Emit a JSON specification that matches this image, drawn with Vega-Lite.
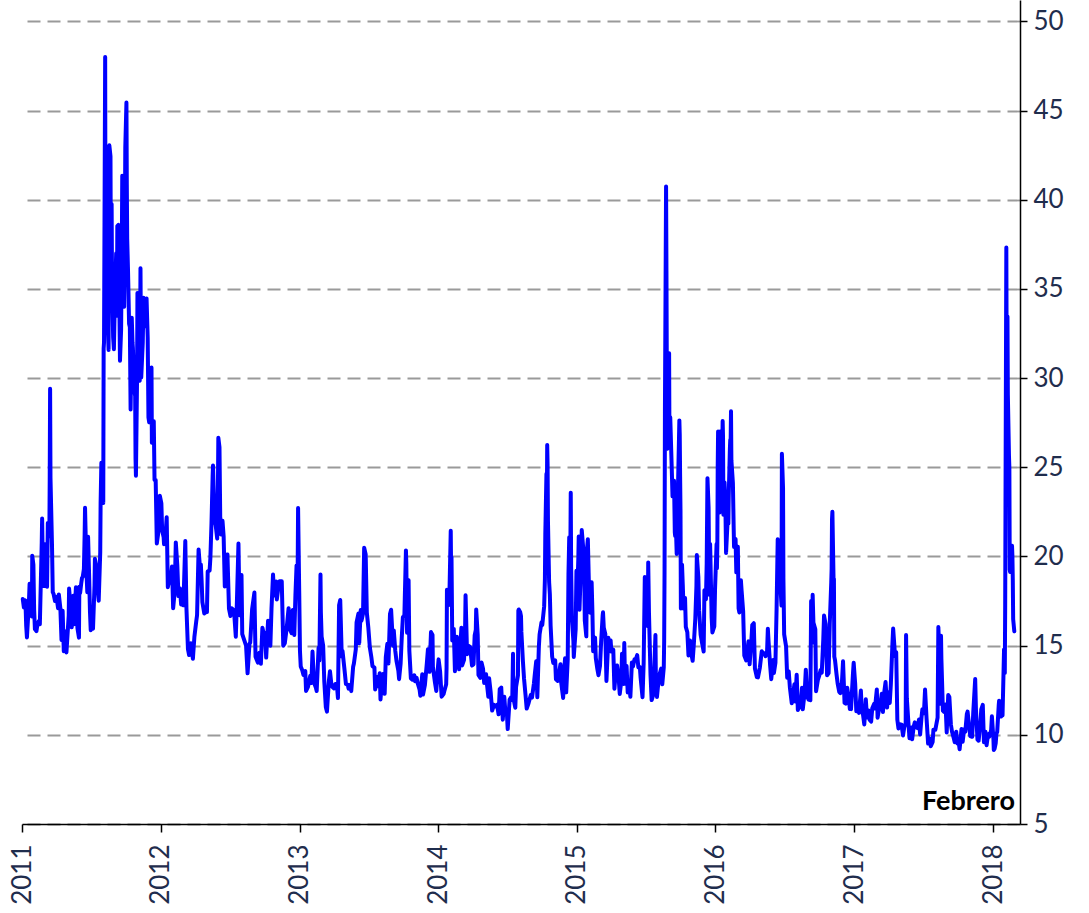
{
"$schema": "https://vega.github.io/schema/vega-lite/v6.json",
"width": 998, "height": 824,
"autosize": {"type": "none"},
"padding": {"left": 22, "top": 0, "right": 69, "bottom": 89},
"background": "white",
"config": {"view": {"stroke": null}, "font": "Lato"},
"datasets": {
"lab": [{"d": "2018-02-28", "v": 5.45, "t": "Febrero"}],
"vix": [
{"d":"2011-01-03","v":17.61},{"d":"2011-01-06","v":17.14},{"d":"2011-01-10","v":17.54},{"d":"2011-01-12","v":16.14},{"d":"2011-01-14","v":15.46},{"d":"2011-01-19","v":17.31},{"d":"2011-01-21","v":18.47},{"d":"2011-01-25","v":17.59},{"d":"2011-01-27","v":16.64},{"d":"2011-01-28","v":20.04},{"d":"2011-01-31","v":19.53},
{"d":"2011-02-02","v":17.0},{"d":"2011-02-04","v":15.93},{"d":"2011-02-08","v":15.81},{"d":"2011-02-10","v":16.09},{"d":"2011-02-14","v":16.37},{"d":"2011-02-17","v":16.2},{"d":"2011-02-22","v":20.8},{"d":"2011-02-23","v":22.13},{"d":"2011-02-25","v":19.22},{"d":"2011-02-28","v":18.35},
{"d":"2011-03-01","v":20.7},{"d":"2011-03-04","v":19.06},{"d":"2011-03-08","v":18.3},{"d":"2011-03-10","v":21.88},{"d":"2011-03-14","v":21.13},{"d":"2011-03-15","v":24.32},{"d":"2011-03-16","v":29.4},{"d":"2011-03-17","v":24.41},{"d":"2011-03-21","v":20.61},{"d":"2011-03-23","v":18.0},{"d":"2011-03-25","v":17.91},{"d":"2011-03-29","v":17.5},{"d":"2011-03-31","v":17.74},
{"d":"2011-04-04","v":17.4},{"d":"2011-04-06","v":17.1},{"d":"2011-04-08","v":17.87},{"d":"2011-04-12","v":17.1},{"d":"2011-04-15","v":15.32},{"d":"2011-04-18","v":16.96},{"d":"2011-04-21","v":14.69},{"d":"2011-04-25","v":15.8},{"d":"2011-04-28","v":14.62},
{"d":"2011-05-02","v":15.99},{"d":"2011-05-04","v":16.7},{"d":"2011-05-05","v":18.2},{"d":"2011-05-09","v":17.16},{"d":"2011-05-12","v":16.03},{"d":"2011-05-16","v":17.8},{"d":"2011-05-18","v":16.2},{"d":"2011-05-23","v":18.27},{"d":"2011-05-25","v":17.07},{"d":"2011-05-27","v":15.98},{"d":"2011-05-31","v":15.45},
{"d":"2011-06-01","v":18.3},{"d":"2011-06-03","v":17.95},{"d":"2011-06-06","v":18.5},{"d":"2011-06-08","v":18.8},{"d":"2011-06-10","v":18.86},{"d":"2011-06-13","v":19.3},{"d":"2011-06-15","v":21.32},{"d":"2011-06-16","v":22.73},{"d":"2011-06-20","v":19.0},{"d":"2011-06-22","v":18.0},{"d":"2011-06-24","v":21.1},{"d":"2011-06-27","v":18.7},{"d":"2011-06-29","v":16.9},
{"d":"2011-07-01","v":15.87},{"d":"2011-07-05","v":16.3},{"d":"2011-07-07","v":15.95},{"d":"2011-07-11","v":18.39},{"d":"2011-07-12","v":19.87},{"d":"2011-07-15","v":19.53},{"d":"2011-07-19","v":18.5},{"d":"2011-07-21","v":17.77},{"d":"2011-07-22","v":17.52},{"d":"2011-07-26","v":20.23},{"d":"2011-07-27","v":22.98},{"d":"2011-07-29","v":25.25},
{"d":"2011-08-01","v":23.66},{"d":"2011-08-03","v":23.0},{"d":"2011-08-04","v":31.66},{"d":"2011-08-05","v":32.0},{"d":"2011-08-08","v":48.0},{"d":"2011-08-09","v":35.06},{"d":"2011-08-10","v":42.99},{"d":"2011-08-11","v":39.0},{"d":"2011-08-12","v":36.36},{"d":"2011-08-15","v":32.85},{"d":"2011-08-17","v":31.58},{"d":"2011-08-18","v":42.67},{"d":"2011-08-19","v":43.05},{"d":"2011-08-22","v":42.44},{"d":"2011-08-23","v":36.27},{"d":"2011-08-25","v":39.76},{"d":"2011-08-26","v":35.59},{"d":"2011-08-29","v":32.28},{"d":"2011-08-31","v":31.62},
{"d":"2011-09-02","v":33.92},{"d":"2011-09-06","v":37.0},{"d":"2011-09-08","v":33.5},{"d":"2011-09-09","v":38.52},{"d":"2011-09-12","v":38.59},{"d":"2011-09-14","v":35.0},{"d":"2011-09-16","v":30.98},{"d":"2011-09-19","v":32.73},{"d":"2011-09-21","v":37.81},{"d":"2011-09-22","v":41.35},{"d":"2011-09-23","v":41.25},{"d":"2011-09-26","v":37.0},{"d":"2011-09-27","v":34.0},{"d":"2011-09-29","v":38.84},{"d":"2011-09-30","v":42.96},
{"d":"2011-10-03","v":45.45},{"d":"2011-10-04","v":40.82},{"d":"2011-10-05","v":37.81},{"d":"2011-10-07","v":36.2},{"d":"2011-10-10","v":33.04},{"d":"2011-10-12","v":32.86},{"d":"2011-10-14","v":28.24},{"d":"2011-10-17","v":33.39},{"d":"2011-10-19","v":32.0},{"d":"2011-10-20","v":31.7},{"d":"2011-10-24","v":29.26},{"d":"2011-10-26","v":29.0},{"d":"2011-10-27","v":25.46},{"d":"2011-10-28","v":24.53},{"d":"2011-10-31","v":29.96},
{"d":"2011-11-01","v":34.77},{"d":"2011-11-02","v":30.5},{"d":"2011-11-04","v":30.16},{"d":"2011-11-07","v":29.85},{"d":"2011-11-08","v":32.0},{"d":"2011-11-09","v":36.16},{"d":"2011-11-10","v":32.8},{"d":"2011-11-11","v":30.04},{"d":"2011-11-15","v":32.0},{"d":"2011-11-17","v":34.51},{"d":"2011-11-21","v":32.91},{"d":"2011-11-23","v":33.98},{"d":"2011-11-25","v":34.47},{"d":"2011-11-28","v":32.28},{"d":"2011-11-30","v":27.8},
{"d":"2011-12-02","v":27.52},{"d":"2011-12-05","v":27.5},{"d":"2011-12-08","v":30.59},{"d":"2011-12-09","v":26.38},{"d":"2011-12-12","v":27.0},{"d":"2011-12-14","v":27.58},{"d":"2011-12-16","v":24.29},{"d":"2011-12-19","v":24.29},{"d":"2011-12-22","v":20.73},{"d":"2011-12-27","v":21.5},{"d":"2011-12-30","v":23.4},
{"d":"2012-01-03","v":22.97},{"d":"2012-01-05","v":21.48},{"d":"2012-01-09","v":21.07},{"d":"2012-01-10","v":20.69},{"d":"2012-01-13","v":20.91},{"d":"2012-01-17","v":22.2},{"d":"2012-01-18","v":20.89},{"d":"2012-01-20","v":18.28},{"d":"2012-01-24","v":18.7},{"d":"2012-01-27","v":18.53},{"d":"2012-01-31","v":19.44},
{"d":"2012-02-03","v":17.1},{"d":"2012-02-07","v":18.0},{"d":"2012-02-10","v":20.79},{"d":"2012-02-14","v":19.5},{"d":"2012-02-17","v":17.78},{"d":"2012-02-21","v":18.2},{"d":"2012-02-24","v":17.31},{"d":"2012-02-28","v":17.9},
{"d":"2012-03-01","v":17.26},{"d":"2012-03-06","v":20.87},{"d":"2012-03-09","v":17.11},{"d":"2012-03-13","v":14.8},{"d":"2012-03-16","v":14.47},{"d":"2012-03-19","v":15.04},{"d":"2012-03-21","v":15.13},{"d":"2012-03-26","v":14.26},{"d":"2012-03-30","v":15.5},
{"d":"2012-04-04","v":16.4},{"d":"2012-04-06","v":16.7},{"d":"2012-04-10","v":20.39},{"d":"2012-04-13","v":19.55},{"d":"2012-04-16","v":19.55},{"d":"2012-04-18","v":18.64},{"d":"2012-04-20","v":17.44},{"d":"2012-04-25","v":16.8},{"d":"2012-04-30","v":17.15},
{"d":"2012-05-02","v":16.88},{"d":"2012-05-04","v":19.16},{"d":"2012-05-09","v":19.2},{"d":"2012-05-11","v":19.89},{"d":"2012-05-14","v":21.87},{"d":"2012-05-17","v":24.49},{"d":"2012-05-18","v":25.1},{"d":"2012-05-22","v":22.0},{"d":"2012-05-25","v":21.76},{"d":"2012-05-29","v":21.0},{"d":"2012-05-31","v":24.06},
{"d":"2012-06-01","v":26.66},{"d":"2012-06-04","v":26.12},{"d":"2012-06-06","v":22.16},{"d":"2012-06-08","v":21.23},{"d":"2012-06-12","v":22.0},{"d":"2012-06-15","v":21.11},{"d":"2012-06-18","v":18.32},{"d":"2012-06-21","v":20.08},{"d":"2012-06-25","v":20.11},{"d":"2012-06-29","v":17.08},
{"d":"2012-07-03","v":16.66},{"d":"2012-07-06","v":17.1},{"d":"2012-07-11","v":17.0},{"d":"2012-07-13","v":16.74},{"d":"2012-07-17","v":15.5},{"d":"2012-07-20","v":17.53},{"d":"2012-07-24","v":20.73},{"d":"2012-07-27","v":16.7},
{"d":"2012-08-01","v":18.96},{"d":"2012-08-03","v":15.64},{"d":"2012-08-08","v":15.32},{"d":"2012-08-13","v":15.0},{"d":"2012-08-17","v":13.45},{"d":"2012-08-22","v":15.1},{"d":"2012-08-24","v":15.18},{"d":"2012-08-29","v":17.06},
{"d":"2012-09-04","v":17.98},{"d":"2012-09-07","v":14.38},{"d":"2012-09-13","v":14.05},{"d":"2012-09-17","v":14.6},{"d":"2012-09-21","v":13.98},{"d":"2012-09-25","v":16.0},{"d":"2012-09-28","v":15.73},
{"d":"2012-10-02","v":15.71},{"d":"2012-10-05","v":14.33},{"d":"2012-10-10","v":16.4},{"d":"2012-10-12","v":16.14},{"d":"2012-10-16","v":15.0},{"d":"2012-10-19","v":17.06},{"d":"2012-10-23","v":18.99},{"d":"2012-10-26","v":17.81},{"d":"2012-10-31","v":18.6},
{"d":"2012-11-02","v":17.59},{"d":"2012-11-07","v":18.4},{"d":"2012-11-09","v":18.61},{"d":"2012-11-15","v":18.61},{"d":"2012-11-19","v":15.0},{"d":"2012-11-23","v":15.14},{"d":"2012-11-28","v":15.98},
{"d":"2012-12-03","v":17.1},{"d":"2012-12-07","v":15.9},{"d":"2012-12-11","v":15.7},{"d":"2012-12-14","v":17.0},{"d":"2012-12-18","v":15.6},{"d":"2012-12-21","v":17.84},{"d":"2012-12-24","v":19.5},{"d":"2012-12-27","v":19.47},{"d":"2012-12-28","v":22.72},{"d":"2012-12-31","v":18.02},
{"d":"2013-01-02","v":14.68},{"d":"2013-01-04","v":13.83},{"d":"2013-01-08","v":13.62},{"d":"2013-01-11","v":13.36},{"d":"2013-01-16","v":13.57},{"d":"2013-01-18","v":12.46},{"d":"2013-01-23","v":12.69},{"d":"2013-01-25","v":12.89},{"d":"2013-01-29","v":13.31},
{"d":"2013-02-01","v":12.9},{"d":"2013-02-04","v":14.67},{"d":"2013-02-08","v":12.93},{"d":"2013-02-13","v":12.64},{"d":"2013-02-15","v":12.46},{"d":"2013-02-20","v":14.88},{"d":"2013-02-22","v":14.17},{"d":"2013-02-25","v":18.99},{"d":"2013-02-26","v":16.87},{"d":"2013-02-28","v":15.51},
{"d":"2013-03-04","v":15.0},{"d":"2013-03-07","v":13.0},{"d":"2013-03-11","v":11.56},{"d":"2013-03-14","v":11.3},{"d":"2013-03-19","v":13.0},{"d":"2013-03-22","v":13.57},{"d":"2013-03-26","v":12.77},{"d":"2013-03-28","v":12.7},
{"d":"2013-04-02","v":12.6},{"d":"2013-04-05","v":12.85},{"d":"2013-04-09","v":12.84},{"d":"2013-04-12","v":12.06},{"d":"2013-04-15","v":17.27},{"d":"2013-04-18","v":17.56},{"d":"2013-04-22","v":14.39},{"d":"2013-04-24","v":14.7},{"d":"2013-04-29","v":13.7},
{"d":"2013-05-03","v":12.85},{"d":"2013-05-08","v":12.8},{"d":"2013-05-10","v":12.59},{"d":"2013-05-15","v":12.8},{"d":"2013-05-17","v":12.45},{"d":"2013-05-22","v":13.82},{"d":"2013-05-24","v":14.0},{"d":"2013-05-29","v":14.8},{"d":"2013-05-31","v":16.3},
{"d":"2013-06-05","v":16.8},{"d":"2013-06-07","v":15.14},{"d":"2013-06-11","v":17.0},{"d":"2013-06-13","v":16.4},{"d":"2013-06-17","v":16.8},{"d":"2013-06-20","v":20.49},{"d":"2013-06-24","v":20.11},{"d":"2013-06-27","v":16.86},
{"d":"2013-07-01","v":16.0},{"d":"2013-07-05","v":14.89},{"d":"2013-07-09","v":14.35},{"d":"2013-07-12","v":13.84},{"d":"2013-07-17","v":13.78},{"d":"2013-07-19","v":12.54},{"d":"2013-07-24","v":13.24},{"d":"2013-07-26","v":12.72},{"d":"2013-07-31","v":13.45},
{"d":"2013-08-02","v":11.98},{"d":"2013-08-07","v":13.3},{"d":"2013-08-09","v":13.41},{"d":"2013-08-13","v":12.3},{"d":"2013-08-16","v":14.37},{"d":"2013-08-20","v":15.1},{"d":"2013-08-23","v":14.0},{"d":"2013-08-27","v":16.77},{"d":"2013-08-30","v":17.01},
{"d":"2013-09-04","v":15.0},{"d":"2013-09-06","v":15.85},{"d":"2013-09-10","v":14.7},{"d":"2013-09-13","v":14.16},{"d":"2013-09-18","v":13.6},{"d":"2013-09-20","v":13.12},{"d":"2013-09-24","v":14.0},{"d":"2013-09-27","v":15.46},{"d":"2013-09-30","v":16.6},
{"d":"2013-10-02","v":16.6},{"d":"2013-10-04","v":16.74},{"d":"2013-10-08","v":20.34},{"d":"2013-10-09","v":19.6},{"d":"2013-10-11","v":15.72},{"d":"2013-10-15","v":18.66},{"d":"2013-10-17","v":14.71},{"d":"2013-10-21","v":13.16},{"d":"2013-10-25","v":13.09},{"d":"2013-10-30","v":13.33},
{"d":"2013-11-01","v":13.0},{"d":"2013-11-05","v":13.2},{"d":"2013-11-08","v":12.9},{"d":"2013-11-13","v":12.53},{"d":"2013-11-15","v":12.19},{"d":"2013-11-20","v":13.4},{"d":"2013-11-22","v":12.26},{"d":"2013-11-27","v":12.8},
{"d":"2013-12-02","v":14.0},{"d":"2013-12-05","v":14.8},{"d":"2013-12-09","v":13.53},{"d":"2013-12-13","v":15.76},{"d":"2013-12-17","v":15.6},{"d":"2013-12-18","v":13.8},{"d":"2013-12-23","v":13.0},{"d":"2013-12-27","v":12.46},{"d":"2013-12-31","v":13.72},
{"d":"2014-01-02","v":14.23},{"d":"2014-01-06","v":13.55},{"d":"2014-01-10","v":12.14},{"d":"2014-01-15","v":12.28},{"d":"2014-01-17","v":12.44},{"d":"2014-01-22","v":12.84},{"d":"2014-01-23","v":13.77},{"d":"2014-01-24","v":18.14},{"d":"2014-01-27","v":17.42},{"d":"2014-01-30","v":17.29},
{"d":"2014-02-03","v":21.44},{"d":"2014-02-04","v":19.11},{"d":"2014-02-05","v":19.95},{"d":"2014-02-07","v":15.29},{"d":"2014-02-11","v":15.94},{"d":"2014-02-14","v":13.57},{"d":"2014-02-19","v":15.5},{"d":"2014-02-21","v":14.68},{"d":"2014-02-25","v":13.67},
{"d":"2014-03-03","v":16.0},{"d":"2014-03-05","v":13.89},{"d":"2014-03-10","v":14.2},{"d":"2014-03-13","v":16.22},{"d":"2014-03-14","v":17.82},{"d":"2014-03-18","v":14.52},{"d":"2014-03-21","v":15.0},{"d":"2014-03-26","v":14.93},{"d":"2014-03-31","v":13.88},
{"d":"2014-04-04","v":13.96},{"d":"2014-04-07","v":15.57},{"d":"2014-04-10","v":15.89},{"d":"2014-04-11","v":17.03},{"d":"2014-04-15","v":15.61},{"d":"2014-04-17","v":13.36},{"d":"2014-04-22","v":13.19},{"d":"2014-04-25","v":14.06},{"d":"2014-04-29","v":13.71},
{"d":"2014-05-02","v":12.91},{"d":"2014-05-07","v":13.4},{"d":"2014-05-09","v":12.92},{"d":"2014-05-13","v":12.13},{"d":"2014-05-15","v":13.17},{"d":"2014-05-19","v":12.42},{"d":"2014-05-23","v":11.36},{"d":"2014-05-28","v":11.68},
{"d":"2014-06-02","v":11.58},{"d":"2014-06-05","v":11.68},{"d":"2014-06-09","v":11.15},{"d":"2014-06-12","v":12.56},{"d":"2014-06-16","v":12.65},{"d":"2014-06-20","v":10.85},{"d":"2014-06-24","v":12.13},{"d":"2014-06-27","v":11.26},
{"d":"2014-07-01","v":11.15},{"d":"2014-07-03","v":10.32},{"d":"2014-07-08","v":11.98},{"d":"2014-07-11","v":12.08},{"d":"2014-07-15","v":11.96},{"d":"2014-07-17","v":14.54},{"d":"2014-07-18","v":12.06},{"d":"2014-07-23","v":11.52},{"d":"2014-07-25","v":12.69},{"d":"2014-07-30","v":13.33},{"d":"2014-07-31","v":16.95},
{"d":"2014-08-01","v":17.03},{"d":"2014-08-05","v":16.87},{"d":"2014-08-07","v":16.66},{"d":"2014-08-08","v":15.77},{"d":"2014-08-12","v":14.13},{"d":"2014-08-15","v":13.15},{"d":"2014-08-19","v":12.21},{"d":"2014-08-22","v":11.47},{"d":"2014-08-27","v":11.78},
{"d":"2014-09-02","v":12.25},{"d":"2014-09-05","v":12.09},{"d":"2014-09-10","v":12.88},{"d":"2014-09-12","v":13.31},{"d":"2014-09-16","v":14.12},{"d":"2014-09-19","v":12.11},{"d":"2014-09-23","v":14.93},{"d":"2014-09-25","v":15.64},{"d":"2014-09-30","v":16.31},
{"d":"2014-10-02","v":16.16},{"d":"2014-10-07","v":17.2},{"d":"2014-10-09","v":18.76},{"d":"2014-10-10","v":21.24},{"d":"2014-10-13","v":24.64},{"d":"2014-10-14","v":22.79},{"d":"2014-10-15","v":26.25},{"d":"2014-10-16","v":25.2},{"d":"2014-10-17","v":21.99},{"d":"2014-10-20","v":18.57},{"d":"2014-10-22","v":17.87},{"d":"2014-10-24","v":16.11},{"d":"2014-10-28","v":14.39},{"d":"2014-10-31","v":14.03},
{"d":"2014-11-05","v":14.17},{"d":"2014-11-07","v":13.12},{"d":"2014-11-12","v":13.02},{"d":"2014-11-14","v":13.31},{"d":"2014-11-19","v":13.96},{"d":"2014-11-21","v":12.9},{"d":"2014-11-26","v":12.07},{"d":"2014-11-28","v":13.33},
{"d":"2014-12-01","v":14.29},{"d":"2014-12-04","v":12.38},{"d":"2014-12-08","v":14.21},{"d":"2014-12-10","v":19.0},{"d":"2014-12-12","v":21.08},{"d":"2014-12-15","v":20.42},{"d":"2014-12-16","v":23.57},{"d":"2014-12-17","v":19.44},{"d":"2014-12-19","v":16.49},{"d":"2014-12-23","v":15.25},{"d":"2014-12-24","v":14.37},{"d":"2014-12-29","v":15.92},{"d":"2014-12-31","v":19.2},
{"d":"2015-01-02","v":17.79},{"d":"2015-01-05","v":19.92},{"d":"2015-01-06","v":21.12},{"d":"2015-01-08","v":17.01},{"d":"2015-01-12","v":19.6},{"d":"2015-01-14","v":21.48},{"d":"2015-01-16","v":20.95},{"d":"2015-01-20","v":19.89},{"d":"2015-01-22","v":16.4},{"d":"2015-01-26","v":15.52},{"d":"2015-01-28","v":20.44},{"d":"2015-01-30","v":20.97},
{"d":"2015-02-03","v":17.33},{"d":"2015-02-05","v":16.85},{"d":"2015-02-09","v":18.55},{"d":"2015-02-11","v":16.96},{"d":"2015-02-13","v":14.69},{"d":"2015-02-18","v":15.45},{"d":"2015-02-20","v":14.3},{"d":"2015-02-24","v":13.69},{"d":"2015-02-27","v":13.34},
{"d":"2015-03-03","v":13.86},{"d":"2015-03-06","v":15.2},{"d":"2015-03-10","v":16.69},{"d":"2015-03-11","v":16.87},{"d":"2015-03-13","v":16.0},{"d":"2015-03-17","v":15.66},{"d":"2015-03-20","v":13.02},{"d":"2015-03-25","v":15.44},{"d":"2015-03-27","v":15.07},{"d":"2015-03-31","v":15.29},
{"d":"2015-04-02","v":14.67},{"d":"2015-04-07","v":14.78},{"d":"2015-04-10","v":12.58},{"d":"2015-04-14","v":13.67},{"d":"2015-04-17","v":13.89},{"d":"2015-04-21","v":13.25},{"d":"2015-04-24","v":12.29},{"d":"2015-04-28","v":13.0},{"d":"2015-04-30","v":14.55},
{"d":"2015-05-04","v":12.85},{"d":"2015-05-06","v":15.15},{"d":"2015-05-08","v":12.86},{"d":"2015-05-12","v":13.86},{"d":"2015-05-15","v":12.38},{"d":"2015-05-19","v":12.85},{"d":"2015-05-22","v":12.13},{"d":"2015-05-26","v":14.06},{"d":"2015-05-29","v":13.84},
{"d":"2015-06-02","v":14.24},{"d":"2015-06-05","v":14.21},{"d":"2015-06-09","v":14.47},{"d":"2015-06-12","v":13.78},{"d":"2015-06-16","v":13.8},{"d":"2015-06-18","v":13.19},{"d":"2015-06-23","v":12.11},{"d":"2015-06-26","v":14.02},{"d":"2015-06-29","v":18.85},{"d":"2015-06-30","v":18.23},
{"d":"2015-07-02","v":16.79},{"d":"2015-07-07","v":16.09},{"d":"2015-07-08","v":19.66},{"d":"2015-07-10","v":16.83},{"d":"2015-07-14","v":13.37},{"d":"2015-07-17","v":11.95},{"d":"2015-07-21","v":12.22},{"d":"2015-07-24","v":13.74},{"d":"2015-07-27","v":15.6},{"d":"2015-07-28","v":13.44},{"d":"2015-07-31","v":12.12},
{"d":"2015-08-04","v":13.0},{"d":"2015-08-07","v":13.39},{"d":"2015-08-11","v":13.71},{"d":"2015-08-14","v":12.83},{"d":"2015-08-18","v":13.79},{"d":"2015-08-19","v":15.25},{"d":"2015-08-20","v":19.14},{"d":"2015-08-21","v":28.03},{"d":"2015-08-24","v":40.74},{"d":"2015-08-25","v":36.02},{"d":"2015-08-26","v":30.32},{"d":"2015-08-27","v":26.1},{"d":"2015-08-28","v":26.05},{"d":"2015-08-31","v":28.43},
{"d":"2015-09-01","v":31.4},{"d":"2015-09-02","v":26.09},{"d":"2015-09-04","v":27.8},{"d":"2015-09-08","v":24.9},{"d":"2015-09-10","v":23.37},{"d":"2015-09-14","v":24.25},{"d":"2015-09-16","v":21.35},{"d":"2015-09-17","v":21.14},{"d":"2015-09-18","v":22.28},{"d":"2015-09-21","v":20.14},{"d":"2015-09-22","v":22.44},{"d":"2015-09-24","v":23.47},{"d":"2015-09-28","v":27.63},{"d":"2015-09-29","v":26.83},{"d":"2015-09-30","v":24.5},
{"d":"2015-10-01","v":22.55},{"d":"2015-10-02","v":17.08},{"d":"2015-10-05","v":19.54},{"d":"2015-10-07","v":18.4},{"d":"2015-10-09","v":17.08},{"d":"2015-10-13","v":17.67},{"d":"2015-10-15","v":16.05},{"d":"2015-10-19","v":15.75},{"d":"2015-10-22","v":14.45},{"d":"2015-10-26","v":15.29},{"d":"2015-10-29","v":14.61},
{"d":"2015-11-02","v":14.15},{"d":"2015-11-05","v":15.05},{"d":"2015-11-09","v":16.52},{"d":"2015-11-12","v":18.37},{"d":"2015-11-13","v":20.08},{"d":"2015-11-17","v":18.84},{"d":"2015-11-19","v":16.99},{"d":"2015-11-23","v":15.62},{"d":"2015-11-27","v":15.12},
{"d":"2015-12-01","v":14.67},{"d":"2015-12-03","v":18.11},{"d":"2015-12-07","v":17.6},{"d":"2015-12-09","v":19.61},{"d":"2015-12-11","v":24.39},{"d":"2015-12-14","v":22.73},{"d":"2015-12-16","v":17.86},{"d":"2015-12-18","v":20.7},{"d":"2015-12-22","v":16.6},{"d":"2015-12-24","v":15.74},{"d":"2015-12-29","v":16.08},{"d":"2015-12-31","v":18.21},
{"d":"2016-01-04","v":20.7},{"d":"2016-01-05","v":19.34},{"d":"2016-01-06","v":20.59},{"d":"2016-01-07","v":24.99},{"d":"2016-01-08","v":27.01},{"d":"2016-01-11","v":24.3},{"d":"2016-01-12","v":22.47},{"d":"2016-01-13","v":25.22},{"d":"2016-01-14","v":23.95},{"d":"2016-01-15","v":27.02},{"d":"2016-01-19","v":26.05},{"d":"2016-01-20","v":27.59},{"d":"2016-01-21","v":26.69},{"d":"2016-01-22","v":22.34},{"d":"2016-01-25","v":24.15},{"d":"2016-01-27","v":23.11},{"d":"2016-01-29","v":20.2},
{"d":"2016-02-02","v":21.98},{"d":"2016-02-04","v":21.84},{"d":"2016-02-05","v":23.38},{"d":"2016-02-08","v":26.0},{"d":"2016-02-09","v":26.54},{"d":"2016-02-10","v":26.29},{"d":"2016-02-11","v":28.14},{"d":"2016-02-12","v":25.4},{"d":"2016-02-16","v":24.11},{"d":"2016-02-18","v":21.64},{"d":"2016-02-19","v":20.53},{"d":"2016-02-23","v":20.98},{"d":"2016-02-25","v":19.11},{"d":"2016-02-29","v":20.55},
{"d":"2016-03-02","v":17.09},{"d":"2016-03-04","v":16.86},{"d":"2016-03-08","v":18.67},{"d":"2016-03-10","v":18.05},{"d":"2016-03-14","v":16.92},{"d":"2016-03-17","v":14.44},{"d":"2016-03-22","v":14.17},{"d":"2016-03-28","v":15.24},{"d":"2016-03-31","v":13.95},
{"d":"2016-04-05","v":15.42},{"d":"2016-04-07","v":16.16},{"d":"2016-04-11","v":16.26},{"d":"2016-04-14","v":13.72},{"d":"2016-04-19","v":13.24},{"d":"2016-04-22","v":13.22},{"d":"2016-04-27","v":13.77},
{"d":"2016-05-02","v":14.68},{"d":"2016-05-05","v":14.57},{"d":"2016-05-09","v":14.57},{"d":"2016-05-12","v":14.41},{"d":"2016-05-16","v":14.68},{"d":"2016-05-18","v":15.95},{"d":"2016-05-20","v":15.2},{"d":"2016-05-24","v":13.9},{"d":"2016-05-27","v":13.12},
{"d":"2016-06-01","v":14.2},{"d":"2016-06-03","v":13.47},{"d":"2016-06-07","v":14.05},{"d":"2016-06-10","v":17.03},{"d":"2016-06-13","v":20.97},{"d":"2016-06-15","v":20.14},{"d":"2016-06-16","v":19.37},{"d":"2016-06-20","v":18.37},{"d":"2016-06-23","v":17.25},{"d":"2016-06-24","v":25.76},{"d":"2016-06-27","v":23.85},{"d":"2016-06-28","v":18.75},{"d":"2016-06-30","v":15.63},
{"d":"2016-07-05","v":14.96},{"d":"2016-07-08","v":13.2},{"d":"2016-07-12","v":13.55},{"d":"2016-07-15","v":12.67},{"d":"2016-07-20","v":11.77},{"d":"2016-07-22","v":12.02},{"d":"2016-07-27","v":12.83},{"d":"2016-07-29","v":11.87},
{"d":"2016-08-02","v":13.37},{"d":"2016-08-05","v":11.39},{"d":"2016-08-10","v":11.66},{"d":"2016-08-12","v":11.55},{"d":"2016-08-16","v":12.64},{"d":"2016-08-18","v":11.43},{"d":"2016-08-23","v":12.38},{"d":"2016-08-26","v":13.65},{"d":"2016-08-30","v":12.12},
{"d":"2016-09-02","v":11.98},{"d":"2016-09-07","v":11.94},{"d":"2016-09-09","v":17.5},{"d":"2016-09-12","v":15.16},{"d":"2016-09-13","v":17.85},{"d":"2016-09-15","v":16.3},{"d":"2016-09-20","v":15.92},{"d":"2016-09-22","v":12.45},{"d":"2016-09-27","v":13.1},{"d":"2016-09-30","v":13.29},
{"d":"2016-10-04","v":13.63},{"d":"2016-10-07","v":13.48},{"d":"2016-10-11","v":15.36},{"d":"2016-10-13","v":16.69},{"d":"2016-10-17","v":16.21},{"d":"2016-10-21","v":13.34},{"d":"2016-10-25","v":13.46},{"d":"2016-10-28","v":16.19},
{"d":"2016-11-01","v":18.56},{"d":"2016-11-02","v":19.32},{"d":"2016-11-03","v":22.08},{"d":"2016-11-04","v":22.51},{"d":"2016-11-07","v":18.71},{"d":"2016-11-08","v":18.74},{"d":"2016-11-09","v":14.38},{"d":"2016-11-11","v":14.17},{"d":"2016-11-15","v":13.37},{"d":"2016-11-18","v":12.85},{"d":"2016-11-22","v":12.41},{"d":"2016-11-25","v":12.34},{"d":"2016-11-29","v":12.9},
{"d":"2016-12-02","v":14.12},{"d":"2016-12-06","v":11.79},{"d":"2016-12-09","v":11.75},{"d":"2016-12-13","v":12.64},{"d":"2016-12-16","v":12.2},{"d":"2016-12-20","v":11.45},{"d":"2016-12-23","v":11.44},{"d":"2016-12-28","v":13.37},{"d":"2016-12-30","v":14.04},
{"d":"2017-01-03","v":12.85},{"d":"2017-01-06","v":11.32},{"d":"2017-01-10","v":11.49},{"d":"2017-01-13","v":11.23},{"d":"2017-01-18","v":12.48},{"d":"2017-01-20","v":11.54},{"d":"2017-01-24","v":11.07},{"d":"2017-01-27","v":10.58},{"d":"2017-01-31","v":11.99},
{"d":"2017-02-03","v":10.97},{"d":"2017-02-07","v":11.37},{"d":"2017-02-10","v":10.85},{"d":"2017-02-14","v":10.74},{"d":"2017-02-17","v":11.49},{"d":"2017-02-22","v":11.74},{"d":"2017-02-24","v":11.47},
{"d":"2017-03-01","v":12.54},{"d":"2017-03-03","v":10.96},{"d":"2017-03-07","v":11.45},{"d":"2017-03-10","v":11.66},{"d":"2017-03-14","v":12.3},{"d":"2017-03-17","v":11.28},{"d":"2017-03-21","v":12.47},{"d":"2017-03-24","v":12.96},{"d":"2017-03-28","v":11.53},{"d":"2017-03-31","v":12.37},
{"d":"2017-04-04","v":11.79},{"d":"2017-04-07","v":12.87},{"d":"2017-04-11","v":15.07},{"d":"2017-04-13","v":15.96},{"d":"2017-04-18","v":14.42},{"d":"2017-04-21","v":14.63},{"d":"2017-04-24","v":10.84},{"d":"2017-04-27","v":10.36},
{"d":"2017-05-02","v":10.59},{"d":"2017-05-05","v":10.57},{"d":"2017-05-09","v":9.96},{"d":"2017-05-12","v":10.4},{"d":"2017-05-16","v":10.65},{"d":"2017-05-17","v":15.59},{"d":"2017-05-19","v":12.04},{"d":"2017-05-23","v":10.72},{"d":"2017-05-26","v":9.81},{"d":"2017-05-31","v":10.41},
{"d":"2017-06-02","v":9.75},{"d":"2017-06-06","v":10.45},{"d":"2017-06-09","v":10.7},{"d":"2017-06-13","v":10.42},{"d":"2017-06-16","v":10.38},{"d":"2017-06-20","v":10.86},{"d":"2017-06-23","v":10.02},{"d":"2017-06-27","v":11.06},{"d":"2017-06-29","v":11.44},
{"d":"2017-07-03","v":11.22},{"d":"2017-07-06","v":12.54},{"d":"2017-07-10","v":10.89},{"d":"2017-07-14","v":9.51},{"d":"2017-07-19","v":9.79},{"d":"2017-07-21","v":9.36},{"d":"2017-07-26","v":9.6},{"d":"2017-07-28","v":10.29},
{"d":"2017-08-02","v":10.28},{"d":"2017-08-08","v":10.96},{"d":"2017-08-10","v":16.04},{"d":"2017-08-11","v":15.51},{"d":"2017-08-14","v":12.33},{"d":"2017-08-16","v":11.74},{"d":"2017-08-17","v":15.55},{"d":"2017-08-18","v":14.26},{"d":"2017-08-22","v":11.35},{"d":"2017-08-25","v":11.28},{"d":"2017-08-29","v":11.7},
{"d":"2017-09-01","v":10.13},{"d":"2017-09-05","v":12.23},{"d":"2017-09-08","v":12.12},{"d":"2017-09-12","v":10.58},{"d":"2017-09-15","v":10.17},{"d":"2017-09-20","v":9.78},{"d":"2017-09-22","v":9.59},{"d":"2017-09-26","v":10.17},{"d":"2017-09-29","v":9.51},
{"d":"2017-10-03","v":9.51},{"d":"2017-10-05","v":9.19},{"d":"2017-10-10","v":10.33},{"d":"2017-10-13","v":9.61},{"d":"2017-10-17","v":10.31},{"d":"2017-10-20","v":10.18},{"d":"2017-10-24","v":11.16},{"d":"2017-10-26","v":11.3},{"d":"2017-10-30","v":10.5},
{"d":"2017-11-02","v":9.93},{"d":"2017-11-07","v":9.89},{"d":"2017-11-10","v":11.29},{"d":"2017-11-15","v":13.13},{"d":"2017-11-17","v":11.43},{"d":"2017-11-21","v":9.73},{"d":"2017-11-24","v":9.67},{"d":"2017-11-29","v":10.7},
{"d":"2017-12-01","v":11.43},{"d":"2017-12-05","v":11.68},{"d":"2017-12-08","v":9.58},{"d":"2017-12-12","v":10.18},{"d":"2017-12-15","v":9.42},{"d":"2017-12-19","v":10.03},{"d":"2017-12-22","v":9.9},{"d":"2017-12-27","v":10.25},{"d":"2017-12-29","v":11.04},
{"d":"2018-01-02","v":9.77},{"d":"2018-01-03","v":9.15},{"d":"2018-01-05","v":9.22},{"d":"2018-01-08","v":9.52},{"d":"2018-01-10","v":10.08},{"d":"2018-01-12","v":10.16},{"d":"2018-01-16","v":11.66},{"d":"2018-01-17","v":11.91},{"d":"2018-01-19","v":11.27},{"d":"2018-01-22","v":11.03},{"d":"2018-01-24","v":11.47},{"d":"2018-01-26","v":11.08},{"d":"2018-01-29","v":13.84},{"d":"2018-01-30","v":14.79},{"d":"2018-01-31","v":13.54},
{"d":"2018-02-01","v":13.47},{"d":"2018-02-02","v":17.31},{"d":"2018-02-05","v":37.32},{"d":"2018-02-06","v":29.98},{"d":"2018-02-07","v":27.73},{"d":"2018-02-08","v":33.46},{"d":"2018-02-09","v":29.06},{"d":"2018-02-12","v":25.61},{"d":"2018-02-13","v":24.97},{"d":"2018-02-14","v":19.26},{"d":"2018-02-15","v":19.13},{"d":"2018-02-16","v":19.46},{"d":"2018-02-20","v":20.6},{"d":"2018-02-21","v":20.02},{"d":"2018-02-22","v":18.72},{"d":"2018-02-23","v":16.49},{"d":"2018-02-26","v":15.8}
]
},
"layer": [
{
"data": {"name": "vix"},
"mark": {"type": "line", "color": "#0000FF", "strokeWidth": 4, "strokeJoin": "round", "strokeCap": "round"},
"encoding": {
"x": {"field": "d", "type": "temporal",
"scale": {"type": "utc", "domain": [{"year": 2011, "month": 1, "date": 1, "utc": true}, {"year": 2018, "month": 3, "date": 13, "utc": true}]},
"axis": {"orient": "bottom", "title": null, "grid": false,
"values": [{"year": 2011, "month": 1, "date": 1, "utc": true}, {"year": 2012, "month": 1, "date": 1, "utc": true}, {"year": 2013, "month": 1, "date": 1, "utc": true}, {"year": 2014, "month": 1, "date": 1, "utc": true}, {"year": 2015, "month": 1, "date": 1, "utc": true}, {"year": 2016, "month": 1, "date": 1, "utc": true}, {"year": 2017, "month": 1, "date": 1, "utc": true}, {"year": 2018, "month": 1, "date": 1, "utc": true}],
"format": "%Y", "formatType": "utc", "labelAngle": -90, "labelFontSize": 26, "labelFont": "Lato", "labelColor": "#1F2D4D", "labelPadding": 12, "labelOverlap": false,
"tickSize": 8, "tickColor": "black", "tickWidth": 1.5, "domainColor": "black", "domainWidth": 1.5}},
"y": {"field": "v", "type": "quantitative",
"scale": {"domain": [5, 51.2], "nice": false, "zero": false},
"axis": {"orient": "right", "title": null, "values": [5, 10, 15, 20, 25, 30, 35, 40, 45, 50],
"grid": true, "gridColor": "#9A9A9A", "gridDash": [13, 7], "gridWidth": 1.8,
"labelFontSize": 26, "labelFont": "Lato", "labelColor": "#1F2D4D", "labelPadding": 6, "labelOverlap": false,
"tickSize": 7, "tickColor": "black", "tickWidth": 1.5, "domainColor": "black", "domainWidth": 1.5}}
}
},
{
"data": {"name": "lab"},
"mark": {"type": "text", "align": "right", "baseline": "bottom", "font": "Lato", "fontWeight": "bold", "fontSize": 27, "color": "black"},
"encoding": {
"x": {"field": "d", "type": "temporal"},
"y": {"field": "v", "type": "quantitative"},
"text": {"field": "t"}
}
}
]
}
